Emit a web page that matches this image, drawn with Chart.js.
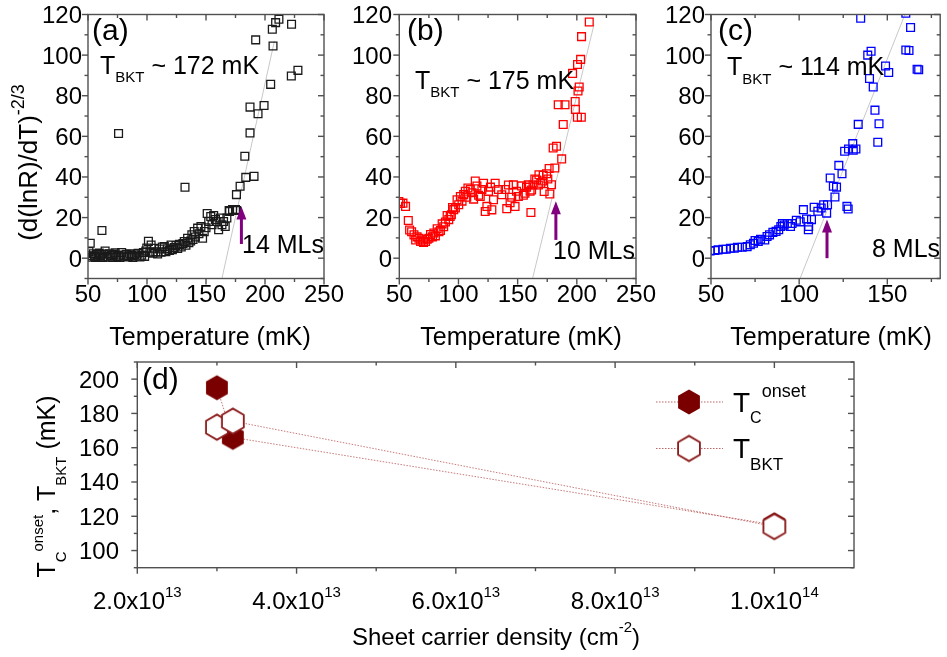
<!DOCTYPE html>
<html lang="en">
<head>
<meta charset="UTF-8">
<title>BKT transition</title>
<script src="https://cdn.jsdelivr.net/npm/chart.js"></script>
<style>
  body { margin: 0; background: #fff; }
  canvas { position: absolute; left: 0; top: 0; }
</style>
</head>
<body>
<canvas id="pa" width="947" height="657"></canvas>
<canvas id="pb" width="947" height="657"></canvas>
<canvas id="pc" width="947" height="657"></canvas>
<canvas id="pd" width="947" height="657"></canvas>

<script>
// ---- data: [temperature mK, (d(lnR)/dT)^-2/3] ----
const pointsA = [
  [50.8,3.3],[51.9,7.4],[52.5,1.2],[53.5,0.5],[54.5,2.2],[55.5,1],[56.5,0.3],[57.5,1.8],[58.5,0.6],[59.5,2.5],
  [60.5,1.2],[61.8,13.6],[62.5,0.4],[63.5,2],[64.5,3.5],[66,1],[67,0.5],[68,2.2],[69.5,1.4],[71,0.3],
  [72,1.8],[73,2.6],[74.5,0.8],[75.9,61.4],[76,1.5],[77,0.4],[78.5,2.8],[80,1.2],[81,0.6],[82.5,1.9],[84,0.8],
  [85.5,2.2],[87,1.4],[88,0.3],[89.5,1.7],[91,1],[92.5,2.4],[94,0.6],[95.5,1.5],[97,2.8],[98,0.9],
  [99,3.5],[99.8,5],[101.2,8.3],[102.5,3],[103.5,6.5],[105,2.5],[106.3,4.9],[107.5,3.2],[109,2.1],[110.5,4.5],
  [112,3],[113,5.5],[114.7,5.7],[116,3.2],[117.5,4.6],[119,3.8],[120.4,6.5],[121.5,4.2],[123,5.2],[124.6,6.2],
  [126,4.8],[127.5,6.8],[129,5.5],[130.5,7.2],[131.6,8.2],[132.2,34.9],[133,6.4],[134.4,9.8],[135.5,7.6],[137,8.5],
  [138,11.5],[139,9.2],[140,13.1],[141,10.4],[142.9,14.8],[144,12],[145.7,15.6],[147.1,9.8],[148.5,13.1],[150,15],
  [151,22],[152.3,18.1],[154,20.5],[155.1,16.5],[156.5,21],[158,19],[159.3,18.1],[160.7,14],[162.1,19.8],[163.5,16.5],
  [164.9,18.1],[166.3,15.6],[167.7,19.8],[169.6,23.5],[170,23],[172.5,24],[175,24],[176,23.5],
  [175.8,31.3],[178.9,35.4],[183.7,39.8],[190.7,40.3],[182.9,50.2],[187.3,61.7],[187.3,74.4],[199.2,75.2],
  [194.1,71.1],[204.8,85.6],[192.1,107.5],[206.8,104.5],[206.2,112.7],[209,116],[211.8,117.7],[222.5,115.2],
  [222.3,89.7],[227.9,92.5]
];
const pointsB = [
  [49.6,27.9],[51,27],[53.1,27.1],[55.3,25.5],[57.6,18.6],[58.7,13.9],[60.4,13],[62.4,11.5],[63.8,9],[65,10.5],
  [66.6,9.8],[68,8.2],[69.4,9],[70.5,7.8],[72.2,8.2],[73.6,9.3],[75,9.8],[76.4,11.7],[78,10.5],[79.2,12.4],
  [80.5,11],[82,14.5],[83.5,13],[84.8,13.6],[86.2,16.9],[87.5,15.5],[89,17.8],[90.4,21],[91.8,19],[93,20.5],
  [94,21.4],[95,25],[96,23.9],[97.4,24.7],[98.8,28.8],[100.2,26.3],[101.6,30.4],[103,28.1],[104.4,31.3],[105.8,33],
  [107,30],[108,34.6],[110,33.8],[111.4,32.2],[112.8,29.1],[114.2,38],[115.6,35.5],[117,31],[118.4,30.4],[119.8,33.8],
  [121.2,36.9],[122.6,23],[124,25.5],[125.4,32.9],[127,35],[128.2,23.8],[129.6,28.8],[131,36.9],[133.8,33.8],[136.6,31.2],
  [139.4,33.8],[140.8,24.4],[142.2,36],[143.6,27.3],[145,30],[146.4,36.1],[147.8,25.5],[149,33],[150.6,30.4],[153.4,35.6],
  [154.8,31],[156.2,32],[157.5,35],[159,36.1],[160.5,33],[161.2,22.5],[161.8,33.6],[163,36],[164.5,39],[166,38.5],
  [167.5,36],[168,41.1],[169.6,36.9],[171,38],[171.6,40.8],[172.4,32.8],[174.4,41.6],[175.5,39],[176.6,44.2],[177.2,31.6],
  [178.6,36.2],[180,54.3],[181.4,44.4],[182.8,55.1],[184.3,75.6],[187.2,48.9],[188.5,65.8],[190,75.6],[196.4,91],[198.6,77.2],
  [198.8,73.2],[200.5,69.4],[200.6,95.4],[201,82.3],[202,84.3],[203.2,97.9],[203.8,69.4],[204,109.1],[210.5,116.3]
];
const pointsC = [
  [49.5,3.5],[52.2,3.8],[54,4.1],[56.8,4.4],[58.6,4.4],[61,4.9],[63.2,4.9],[65,5.4],[67.7,5.4],[70.5,5.7],
  [72.3,6.6],[74.1,7.4],[75,8.7],[76.8,8.2],[78.1,9.3],[80.5,9],[81.8,10.7],[83.2,11.5],[85.1,12.7],[86.9,13.2],
  [88.4,14],[89.6,15.6],[90.5,17.1],[91.5,16.3],[93.3,17.1],[95.1,15.6],[96,17.1],[98.4,18.7],[100.6,17.9],[102.4,23.9],
  [104.2,19.3],[105.2,14],[105.4,15.6],[107,19],[108.5,25.1],[110.6,23.1],[112.5,24.7],[113.9,26.3],[115.6,22.2],[116.1,26.3],
  [117.6,39.5],[119.4,35.4],[120.3,30.1],[121.2,35],[122.5,45.7],[124.3,41.6],[125.8,52.7],[127.1,25.5],[127.8,24.2],[128,53.8],
  [130.4,56.4],[130.7,53.2],[132.2,53.8],[133.5,65.9],[134.9,118.2],[138.9,100],[139.9,88.5],[140.8,101.9],[142,84.3],[143,72.9],
  [144.6,57.1],[145.3,66.2],[149,94.6],[150.8,91.4],[160.5,120.6],[160.5,102.5],[162.3,102.3],[163.2,113.6],[166.9,93],[167.8,92.8]
];
// linear BKT fits (two end points each)
const fitA = [[163.5,-10],[208,107]];
const fitB = [[162.6,-10],[214.5,115]];
const fitC = [[100.5,-10],[160,120]];
// arrows marking T_BKT: x, from, to
const arrowX = [180, 182.3, 115.8];
const arrowFrom = [7, 9, 0];
const arrowTo = [25.5, 28, 19];

// panel (d)
const density = [3.0e13, 3.2e13, 1.0e14];
const tcOnset = [195, 166, 115];
const tBKT = [172, 175.5, 114];

// ticks
const tempTicks = [50, 100, 150, 200, 250];
const tempTicksC = [50, 100, 150];
const yTicks = [0, 20, 40, 60, 80, 100, 120];
const densityTicks = [2e13, 4e13, 6e13, 8e13, 1e14];
const densityTickLabels = [['2.0x10','13'], ['4.0x10','13'], ['6.0x10','13'], ['8.0x10','13'], ['1.0x10','14']];
const tcTicks = [100, 120, 140, 160, 180, 200];

const FONT = '"Liberation Sans", Arial, sans-serif';

// draw a run of text pieces: [text, size, dy]
function rich(ctx, parts, x, y, align) {
  let w = 0;
  const ws = parts.map(p => { ctx.font = p[1] + 'px ' + FONT; const m = ctx.measureText(p[0]).width; w += m; return m; });
  let cx = align === 'center' ? x - w / 2 : align === 'right' ? x - w : x;
  ctx.textAlign = 'left';
  ctx.textBaseline = 'alphabetic';
  parts.forEach((p, i) => {
    ctx.font = p[1] + 'px ' + FONT;
    ctx.fillText(p[0], cx, y + (p[2] || 0));
    cx += ws[i];
  });
}

function hexagon(fill, stroke) {
  const c = document.createElement('canvas');
  c.width = 30; c.height = 30;
  const g = c.getContext('2d');
  g.beginPath();
  for (let i = 0; i < 6; i++) {
    const a = (60 * i - 90) * Math.PI / 180;
    const px = 15 + 12.6 * Math.cos(a), py = 15 + 12.6 * Math.sin(a);
    if (i) g.lineTo(px, py); else g.moveTo(px, py);
  }
  g.closePath();
  g.fillStyle = fill;
  g.fill();
  if (stroke) { g.strokeStyle = stroke; g.lineWidth = 1.8; g.stroke(); }
  return c;
}
const hexFilled = hexagon('#7a0000');
const hexOpen = hexagon('#ffffff', '#8b1a1a');

function arrow(ctx, chart, i) {
  const x = chart.scales.x.getPixelForValue(arrowX[i]);
  const y0 = chart.scales.y.getPixelForValue(arrowFrom[i]);
  const y1 = chart.scales.y.getPixelForValue(arrowTo[i]);
  ctx.save();
  ctx.strokeStyle = '#800080';
  ctx.fillStyle = '#800080';
  ctx.lineWidth = 3;
  ctx.beginPath(); ctx.moveTo(x, y0); ctx.lineTo(x, y1 + 10); ctx.stroke();
  ctx.beginPath(); ctx.moveTo(x, y1); ctx.lineTo(x - 5, y1 + 13); ctx.lineTo(x + 5, y1 + 13); ctx.closePath(); ctx.fill();
  ctx.restore();
}

function minorsOf(major, step) {
  const out = [];
  major.forEach(v => out.push(v + step));
  out.unshift(major[0] - step);
  return out;
}

const decos = {};

const frame = {
  id: 'frame',
  afterDraw(chart) {
    const d = decos[chart.canvas.id];
    const { ctx, chartArea: a } = chart;
    const sx = chart.scales.x, sy = chart.scales.y;
    ctx.save();
    ctx.strokeStyle = '#505050';
    ctx.lineWidth = 1.4;
    ctx.strokeRect(a.left, a.top, a.right - a.left, a.bottom - a.top);
    const seg = (x0, y0, x1, y1) => { ctx.beginPath(); ctx.moveTo(x0, y0); ctx.lineTo(x1, y1); ctx.stroke(); };
    const xt = (vals, L) => vals.forEach(v => {
      const p = sx.getPixelForValue(v);
      if (p < a.left - 0.5 || p > a.right + 0.5) return;
      seg(p, a.bottom, p, a.bottom + L); seg(p, a.top, p, a.top + L);
    });
    const yt = (vals, L) => vals.forEach(v => {
      const p = sy.getPixelForValue(v);
      if (p < a.top - 0.5 || p > a.bottom + 0.5) return;
      seg(a.left - L, p, a.left, p); seg(a.right - L, p, a.right, p);
    });
    xt(d.xMajor, 6); xt(d.xMinor, 3.5);
    yt(d.yMajor, 6); yt(d.yMinor, 3.5);
    ctx.fillStyle = '#000';
    d.xMajor.forEach((v, i) => rich(ctx, d.xLabel(v, i), sx.getPixelForValue(v), d.xLabelY, 'center'));
    d.yMajor.forEach(v => rich(ctx, [[String(v), 24]], d.yLabelX, sy.getPixelForValue(v) + 8.5, 'right'));
    d.extra(ctx, chart);
    ctx.restore();
  }
};

function panel(id, pad, xr, yr, datasets) {
  return new Chart(document.getElementById(id), {
    type: 'scatter',
    data: { datasets },
    options: {
      responsive: false,
      animation: false,
      devicePixelRatio: 1,
      layout: { padding: pad },
      scales: {
        x: { type: 'linear', display: false, min: xr[0], max: xr[1] },
        y: { type: 'linear', display: false, min: yr[0], max: yr[1] }
      },
      plugins: { legend: { display: false }, tooltip: { enabled: false } },
      events: []
    },
    plugins: [frame]
  });
}

const toXY = arr => arr.map(p => ({ x: p[0], y: p[1] }));
function squares(pts, color) {
  return { data: toXY(pts), pointStyle: 'rect', pointRadius: 5.5, borderWidth: 1.3,
           borderColor: color, backgroundColor: 'rgba(0,0,0,0)' };
}
function fitLine(pts) {
  return { data: toXY(pts), showLine: true, pointRadius: 0, borderColor: '#c8c8c8', borderWidth: 1 };
}

function tempDeco(ticks, labelX, titleX, letter, letterX, tbkt, tbktX, tbktY, mls, mlsX, mlsY, idx) {
  return {
    xMajor: ticks, xMinor: ticks.map(v => v + 25),
    yMajor: yTicks, yMinor: minorsOf(yTicks, 10),
    xLabel: v => [[String(v), 24]], xLabelY: 302, yLabelX: labelX,
    extra(ctx, chart) {
      ctx.fillStyle = '#000';
      rich(ctx, [[letter, 30]], letterX, 40, 'left');
      rich(ctx, [['T', 25], ['BKT', 15, 8.5], [' ~ ' + tbkt + ' mK', 25]], tbktX, tbktY, 'left');
      rich(ctx, [[mls, 25]], mlsX, mlsY, 'left');
      rich(ctx, [['Temperature (mK)', 25]], titleX, 345, 'center');
      arrow(ctx, chart, idx);
    }
  };
}

decos.pa = tempDeco(tempTicks, 82, 210, '(a)', 92, 172, 100, 73.5, '14 MLs', 242, 253, 0);
const baseA = decos.pa.extra;
decos.pa.extra = (ctx, chart) => {
  baseA(ctx, chart);
  ctx.save();
  ctx.fillStyle = '#000';
  ctx.translate(36.5, 162.5);
  ctx.rotate(-Math.PI / 2);
  rich(ctx, [['(d(lnR)/dT)', 26], ['-2/3', 18, -12.5]], 0, 0, 'center');
  ctx.restore();
};
decos.pb = tempDeco(tempTicks, 392, 521, '(b)', 407, 175, 415, 88.5, '10 MLs', 553, 259, 1);
decos.pc = tempDeco(tempTicksC, 705, 831, '(c)', 718, 114, 727, 75, '8 MLs', 872, 257, 2);

decos.pd = {
  xMajor: densityTicks, xMinor: densityTicks.map(v => v + 1e13).slice(0, 4),
  yMajor: tcTicks, yMinor: minorsOf(tcTicks, 10),
  xLabel: (v, i) => [[densityTickLabels[i][0], 24], [densityTickLabels[i][1], 15, -12]],
  xLabelY: 609, yLabelX: 119,
  extra(ctx) {
    ctx.fillStyle = '#000';
    rich(ctx, [['(d)', 30]], 142, 389, 'left');
    // legend
    ctx.strokeStyle = 'rgba(170,50,50,0.75)';
    ctx.lineWidth = 1;
    ctx.setLineDash([1.5, 1.5]);
    [402, 448.5].forEach(y => { ctx.beginPath(); ctx.moveTo(656, y); ctx.lineTo(723, y); ctx.stroke(); });
    ctx.setLineDash([]);
    ctx.drawImage(hexFilled, 689 - 15, 402 - 15);
    ctx.drawImage(hexOpen, 689 - 15, 448.5 - 15);
    rich(ctx, [['T', 28], ['C', 16, 11.5], ['onset', 18, -15]], 733, 411.5, 'left');
    rich(ctx, [['T', 28], ['BKT', 17, 12]], 733, 458, 'left');
    // axis titles
    rich(ctx, [['Sheet carrier density (cm', 24], ['-2', 15, -13], [')', 24]], 496, 645, 'center');
    ctx.save();
    ctx.translate(55, 486.5);
    ctx.rotate(-Math.PI / 2);
    rich(ctx, [['T', 25], ['C', 15, 11], ['onset', 15, -12], [', T', 25], ['BKT', 15, 11], [' (mK)', 25]], 0, 0, 'center');
    ctx.restore();
  }
};

panel('pa', { left: 88, top: 14.5, right: 623, bottom: 378.5 }, [50, 250], [-10, 120],
      [squares(pointsA, '#1a1a1a'), fitLine(fitA)]);
panel('pb', { left: 399.3, top: 14.5, right: 311, bottom: 378.5 }, [50, 250], [-10, 120],
      [squares(pointsB, '#ff0000'), fitLine(fitB)]);
panel('pc', { left: 711, top: 14.5, right: -1.3, bottom: 378.5 }, [50, 180], [-10, 120],
      [squares(pointsC, '#0000ff'), fitLine(fitC)]);

const dotted = { showLine: true, borderColor: 'rgba(170,50,50,0.65)', borderWidth: 1, borderDash: [1.5, 1.5], pointRadius: 12 };
panel('pd', { left: 137.3, top: 362, right: 93, bottom: 89.3 }, [2e13, 1.1e14], [90, 210], [
  Object.assign({ data: density.map((x, i) => ({ x, y: tBKT[i] })), pointStyle: hexOpen, order: 0 }, dotted),
  Object.assign({ data: density.map((x, i) => ({ x, y: tcOnset[i] })), pointStyle: hexFilled, order: 1 }, dotted)
]);
</script>
</body>
</html>
